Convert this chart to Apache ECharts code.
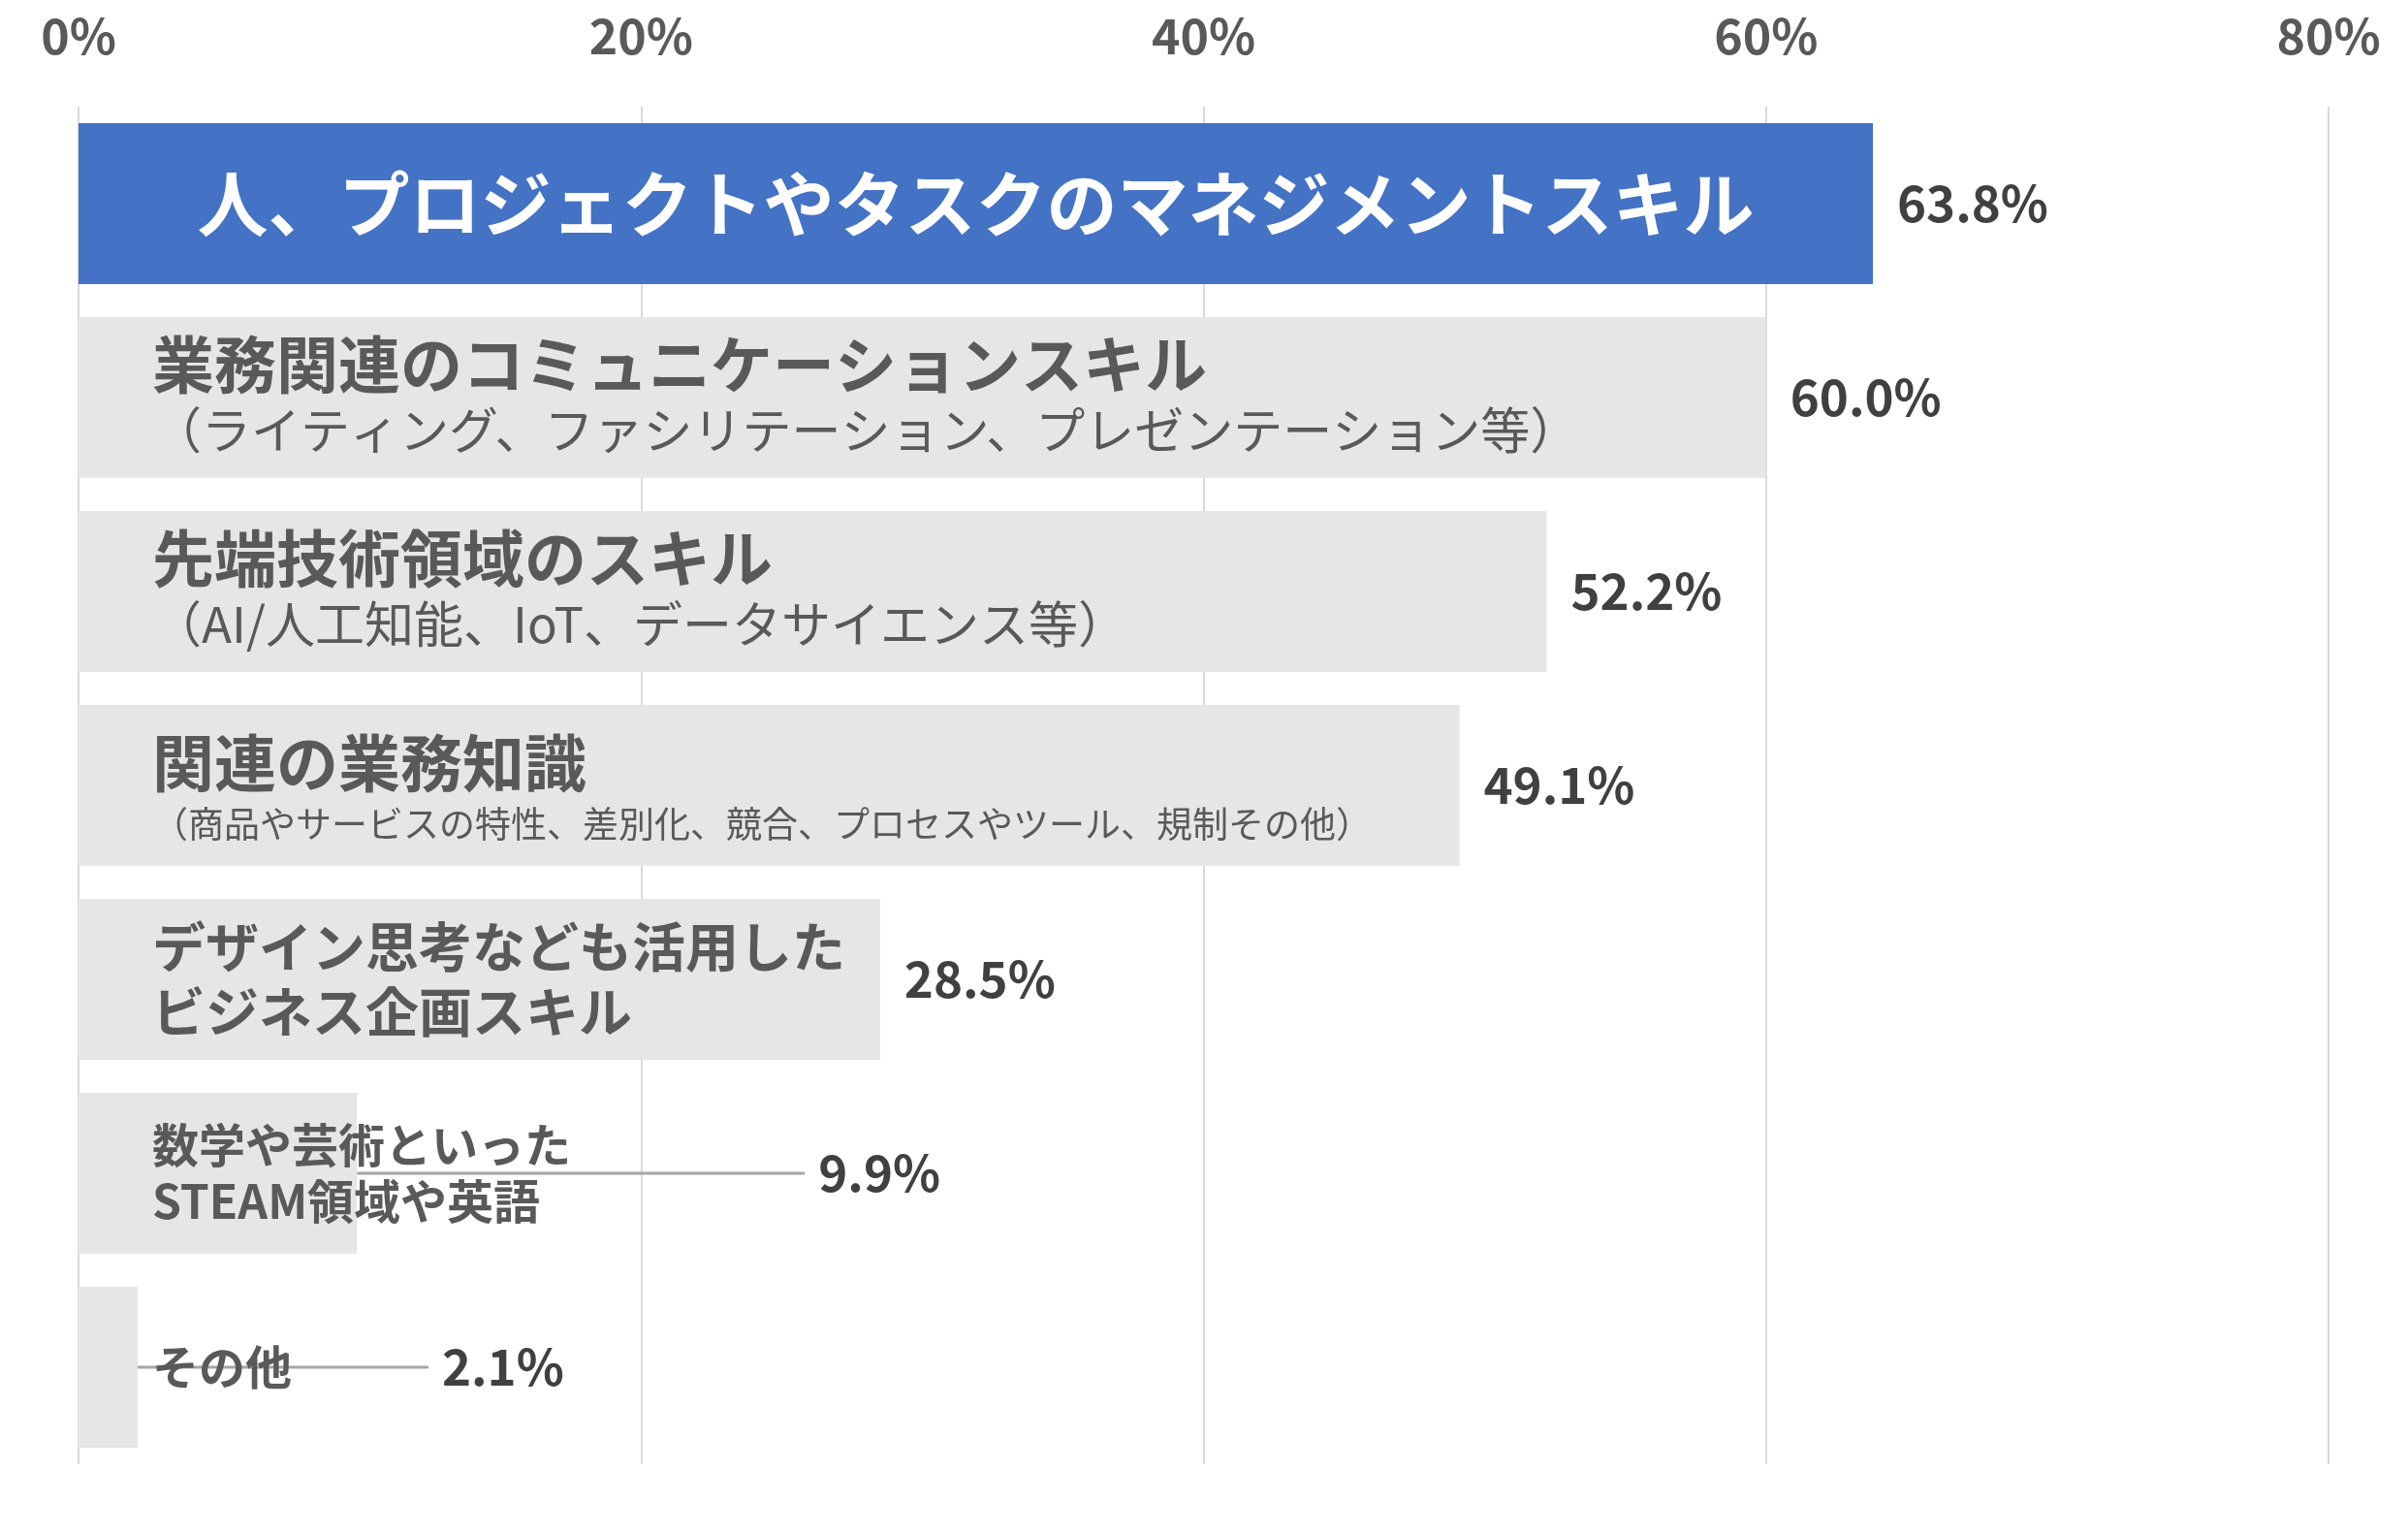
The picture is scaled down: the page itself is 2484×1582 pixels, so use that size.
<!DOCTYPE html>
<html><head><meta charset="utf-8">
<script src="https://cdn.jsdelivr.net/npm/echarts@6/dist/echarts.min.js"></script>
<style>html,body{margin:0;padding:0;background:#fff}#c{width:2484px;height:1582px}</style>
</head><body><div id="c"></div>
<script>
const categories = [
  '人、プロジェクトやタスクのマネジメントスキル',
  '業務関連のコミュニケーションスキル',
  '先端技術領域のスキル',
  '関連の業務知識',
  'デザイン思考なども活用した\nビジネス企画スキル',
  '数学や芸術といった\nSTEAM領域や英語',
  'その他'
];
const subtitles = [
  '',
  '（ライティング、ファシリテーション、プレゼンテーション等）',
  '（AI/人工知能、IoT、データサイエンス等）',
  '（商品やサービスの特性、差別化、競合、プロセスやツール、規制その他）',
  '',
  '',
  ''
];
const values = [63.8, 60.0, 52.2, 49.1, 28.5, 9.9, 2.1];
const tickValues = [0, 20, 40, 60, 80];

const FONT = '"Noto Sans CJK JP", "Noto Sans", sans-serif';
const chart = echarts.init(document.getElementById('c'), null, {renderer: 'canvas'});

function nameLabel(idx) {
  const title = categories[idx];
  const sub = subtitles[idx];
  if (idx === 0) return '{h|' + title + '}';
  if (idx === 1 || idx === 2) return '{t|' + title + '}\n{s|' + sub + '}';
  if (idx === 3) return '{t4|' + title + '}\n{s4|' + sub + '}';
  if (idx === 4) return title.split('\n').map(l => '{m|' + l + '}').join('\n');
  return title.split('\n').map(l => '{n|' + l + '}').join('\n');
}

const barData = values.map((v, i) => ({
  value: v,
  itemStyle: {color: i === 0 ? '#4472c4' : '#e7e6e6'},
  labelLine: {show: i >= 5},
  label: i >= 5 ? {padding: [0, 0, 0, 14], backgroundColor: 'rgba(0,0,0,0)'} : {}
}));
const nameData = values.map((v, i) => (i === 0 ? {value: v, label: {position: 'inside'}} : {value: v}));

chart.setOption({
  animation: false,
  backgroundColor: '#fff',
  textStyle: {fontFamily: FONT},
  grid: {left: 81, right: 82, top: 110, bottom: 72, containLabel: false},
  xAxis: {
    type: 'value', position: 'top',
    min: tickValues[0], max: tickValues[tickValues.length - 1],
    interval: tickValues[1] - tickValues[0],
    axisLine: {show: false}, axisTick: {show: false},
    splitLine: {show: true, lineStyle: {color: '#d9d9d9', width: 2}},
    axisLabel: {formatter: '{value}%', color: '#595959', fontSize: 50, fontWeight: 'bold', fontFamily: FONT, margin: 48}
  },
  yAxis: {
    type: 'category', data: categories, inverse: true,
    axisLine: {show: false}, axisTick: {show: false}, axisLabel: {show: false}, splitLine: {show: false}
  },
  series: [
    {
      type: 'bar', data: barData, barCategoryGap: '17%', barGap: '-100%', z: 2,
      label: {
        show: true, position: 'right', distance: 25,
        formatter: p => p.value.toFixed(1) + '%',
        color: '#404040', fontSize: 51, fontWeight: 'bold', fontFamily: FONT
      },
      labelLine: {lineStyle: {color: '#a6a6a6', width: 3}},
      labelLayout: function (p) {
        if (p.dataIndex === 5) return {dx: 437};
        if (p.dataIndex === 6) return {dx: 275};
        return {};
      }
    },
    {
      type: 'bar', data: nameData, barCategoryGap: '17%', barGap: '-100%', z: 3, silent: true,
      itemStyle: {color: 'rgba(0,0,0,0)'},
      label: {
        show: true, position: 'insideLeft', distance: 76,
        formatter: p => nameLabel(p.dataIndex),
        fontFamily: FONT,
        rich: {
          h: {fontSize: 73, fontWeight: 'bold', color: '#ffffff', fontFamily: FONT},
          t: {fontSize: 64, fontWeight: 'bold', color: '#595959', lineHeight: 68, fontFamily: FONT},
          s: {fontSize: 51, color: '#595959', lineHeight: 68, fontFamily: FONT},
          t4: {fontSize: 64, fontWeight: 'bold', color: '#595959', lineHeight: 80, fontFamily: FONT},
          s4: {fontSize: 37, color: '#595959', lineHeight: 46, fontFamily: FONT},
          m: {fontSize: 55, fontWeight: 'bold', color: '#595959', lineHeight: 67, fontFamily: FONT},
          n: {fontSize: 48, fontWeight: 'bold', color: '#595959', lineHeight: 58, fontFamily: FONT}
        }
      }
    }
  ]
});
</script></body></html>
